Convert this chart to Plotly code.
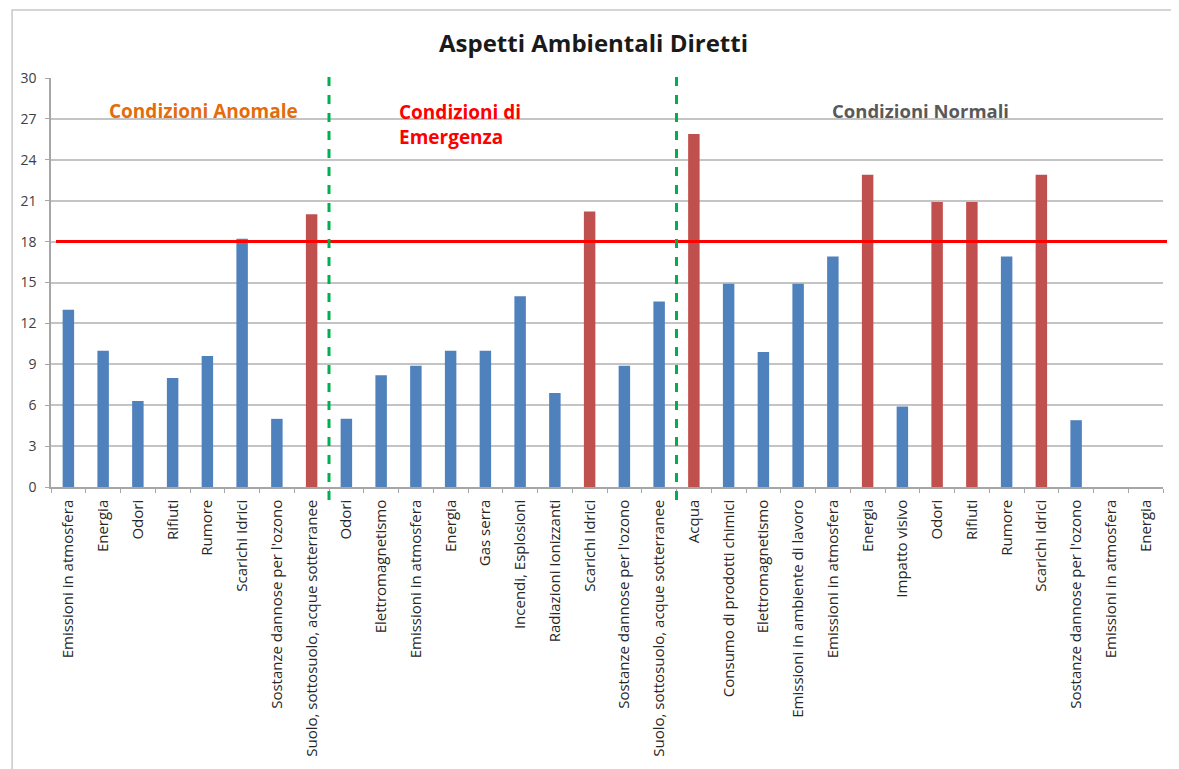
import plotly.graph_objects as go

# ---- data ----
categorie = [
    # Condizioni Anomale
    "Emissioni in atmosfera", "Energia", "Odori", "Rifiuti", "Rumore",
    "Scarichi Idrici", "Sostanze dannose per l'ozono", "Suolo, sottosuolo, acque sotterranee",
    # Condizioni di Emergenza
    "Odori", "Elettromagnetismo", "Emissioni in atmosfera", "Energia", "Gas serra",
    "Incendi, Esplosioni", "Radiazioni Ionizzanti", "Scarichi Idrici",
    "Sostanze dannose per l'ozono", "Suolo, sottosuolo, acque sotterranee",
    # Condizioni Normali
    "Acqua", "Consumo di prodotti chimici", "Elettromagnetismo",
    "Emissioni in ambiente di lavoro", "Emissioni in atmosfera", "Energia",
    "Impatto visivo", "Odori", "Rifiuti", "Rumore", "Scarichi Idrici",
    "Sostanze dannose per l'ozono", "Emissioni in atmosfera", "Energia",
]
valori = [
    13, 10, 6.3, 8, 9.6, 18.2, 5, 20,
    5, 8.2, 8.9, 10, 10, 14, 6.9, 20.2, 8.9, 13.6,
    25.9, 14.9, 9.9, 14.9, 16.9, 22.9, 5.9, 20.9, 20.9, 16.9, 22.9, 4.9, 0, 0,
]
critico = [
    0, 0, 0, 0, 0, 0, 0, 1,
    0, 0, 0, 0, 0, 0, 0, 1, 0, 0,
    1, 0, 0, 0, 0, 1, 0, 1, 1, 0, 1, 0, 0, 0,
]
soglia = 18
separatori = [7.5, 17.5]  # boundaries between groups (category index)
y_ticks = list(range(0, 31, 3))

BLUE = "#4F81BD"
RED = "#C0504D"
FONT = "Open Sans"

x_idx = list(range(len(categorie)))
colors = [RED if c else BLUE for c in critico]

fig = go.Figure()
fig.add_trace(go.Bar(
    x=x_idx, y=valori, marker=dict(color=colors, line=dict(width=0)),
    width=0.33, showlegend=False,
))

shapes = []
# chart outer border
shapes.append(dict(type="rect", xref="paper", yref="paper",
                   x0=-0.035, x1=1.03, y0=-0.72, y1=1.166,
                   line=dict(color="#C8C8C8", width=1.5), layer="below"))
# threshold line
shapes.append(dict(type="line", xref="paper", yref="y",
                   x0=0.0045, x1=1.0036, y0=soglia, y1=soglia,
                   line=dict(color="#FF0000", width=3)))
# group separators
for s in separatori:
    shapes.append(dict(type="line", xref="x", yref="paper",
                       x0=s, x1=s, y0=-0.032, y1=1.012,
                       line=dict(color="#00B050", width=3, dash="dash")))

annotations = [
    dict(x=3.89, y=27.6, xref="x", yref="y", text="<b>Condizioni Anomale</b>",
         showarrow=False, font=dict(family=FONT, size=19, color="#E46C0A")),
    dict(x=9.46, y=26.6, xref="x", yref="y", text="<b>Condizioni di<br>Emergenza</b>",
         showarrow=False, xanchor="left", align="left",
         font=dict(family=FONT, size=19, color="#FF0000")),
    dict(x=24.53, y=27.6, xref="x", yref="y", text="<b>Condizioni Normali</b>",
         showarrow=False, font=dict(family=FONT, size=18.5, color="#595959")),
]

fig.update_layout(
    width=1171, height=761,
    margin=dict(l=40, r=16, t=70, b=282),
    paper_bgcolor="white", plot_bgcolor="white",
    title=dict(text="<b>Aspetti Ambientali Diretti</b>", x=0.5, xanchor="center",
               xref="container", y=1 - 36 / 761, yanchor="middle",
               font=dict(family=FONT, size=24, color="#1A1A1A")),
    shapes=shapes, annotations=annotations,
)
fig.update_xaxes(
    range=[-0.5, len(categorie) - 0.5],
    tickvals=x_idx, ticktext=categorie, tickangle=-90,
    tickfont=dict(family=FONT, size=15, color="#262626"),
    ticklabelstandoff=5,
    showgrid=False, ticks="",
    showline=True, linecolor="#A6A6A6", linewidth=1.5,
    minor=dict(tick0=0.5, dtick=1, ticks="outside", ticklen=4,
               tickcolor="#A6A6A6", showgrid=False),
    fixedrange=True,
)
fig.update_yaxes(
    range=[0, 30], tickvals=y_ticks,
    tickfont=dict(family=FONT, size=14, color="#404040"),
    ticklabelstandoff=6,
    showgrid=True, gridcolor="#C4C4C4", gridwidth=1.5,
    showline=True, linecolor="#A6A6A6", linewidth=1.5,
    ticks="outside", ticklen=4, tickcolor="#A6A6A6",
    zeroline=False, fixedrange=True,
)

fig.write_html("out.html")
